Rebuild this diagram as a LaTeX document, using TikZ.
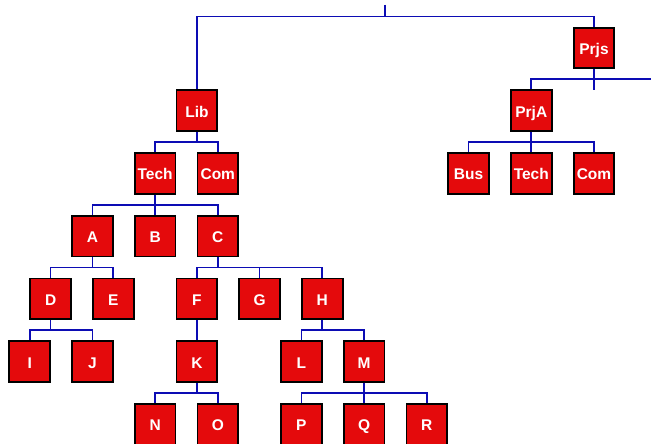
\documentclass[tikz,border=0pt]{standalone}
\usepackage{fontspec}
\newfontfamily\boxfont{Liberation Sans}
\definecolor{boxred}{RGB}{228,10,12}
\definecolor{linkblue}{RGB}{12,12,180}
\begin{document}
\begin{tikzpicture}[x=1pt,y=-1pt,
  box/.style={draw=black,line width=1.8pt,fill=boxred,minimum size=40.7pt,inner sep=0pt,
    text height=13.1pt,text depth=0pt,
    text=white,font=\boxfont\bfseries\fontsize{15.5}{18}\selectfont},
  conn/.style={draw=linkblue,line width=1.7pt}]
\useasboundingbox (0,0) rectangle (651,444);
\clip (0,0) rectangle (651,444);
% nodes
\node[box] (Prjs) at (594.0,48) {Prjs};
\node[box] (Lib) at (196.9,110.7) {Lib};
\node[box] (PrjA) at (531.3,110.7) {PrjA};
\node[box] (Tech) at (155.1,173.4) {Tech};
\node[box] (Com) at (217.8,173.4) {Com};
\node[box] (Bus) at (468.6,173.4) {Bus};
\node[box] (TechA) at (531.3,173.4) {Tech};
\node[box] (ComA) at (594.0,173.4) {Com};
\node[box] (A) at (92.4,236.1) {A};
\node[box] (B) at (155.1,236.1) {B};
\node[box] (C) at (217.8,236.1) {C};
\node[box] (D) at (50.6,298.8) {D};
\node[box] (E) at (113.3,298.8) {E};
\node[box] (F) at (196.9,298.8) {F};
\node[box] (G) at (259.6,298.8) {G};
\node[box] (H) at (322.3,298.8) {H};
\node[box] (I) at (29.7,361.5) {I};
\node[box] (J) at (92.4,361.5) {J};
\node[box] (K) at (196.9,361.5) {K};
\node[box] (L) at (301.4,361.5) {L};
\node[box] (M) at (364.1,361.5) {M};
\node[box] (N) at (155.1,424.2) {N};
\node[box] (O) at (217.8,424.2) {O};
\node[box] (P) at (301.4,424.2) {P};
\node[box] (Q) at (364.1,424.2) {Q};
\node[box] (R) at (426.8,424.2) {R};
\coordinate (root) at (385.0,5);
\coordinate (prjsstub) at (594.0,90);
\coordinate (prjsright) at (651,79.35);
% connectors
\foreach \c in {Lib,Prjs} \draw[conn] (root) -- ++(0,11.65) -| (\c.north);
\draw[conn] (Prjs.south) -- (prjsstub);
\draw[conn] (prjsright) -| (PrjA.north);
\foreach \c in {Bus,TechA,ComA} \draw[conn] (PrjA.south) -- ++(0,10.1) -| (\c.north);
\foreach \c in {Tech,Com} \draw[conn] (Lib.south) -- ++(0,10.1) -| (\c.north);
\foreach \c in {A,B,C} \draw[conn] (Tech.south) -- ++(0,10.1) -| (\c.north);
\foreach \c in {D,E} \draw[conn] (A.south) -- ++(0,10.1) -| (\c.north);
\foreach \c in {F,G,H} \draw[conn] (C.south) -- ++(0,10.1) -| (\c.north);
\foreach \c in {I,J} \draw[conn] (D.south) -- ++(0,10.1) -| (\c.north);
\draw[conn] (F.south) -- (K.north);
\foreach \c in {L,M} \draw[conn] (H.south) -- ++(0,10.1) -| (\c.north);
\foreach \c in {N,O} \draw[conn] (K.south) -- ++(0,10.1) -| (\c.north);
\foreach \c in {P,Q,R} \draw[conn] (M.south) -- ++(0,10.1) -| (\c.north);
\end{tikzpicture}
\end{document}
